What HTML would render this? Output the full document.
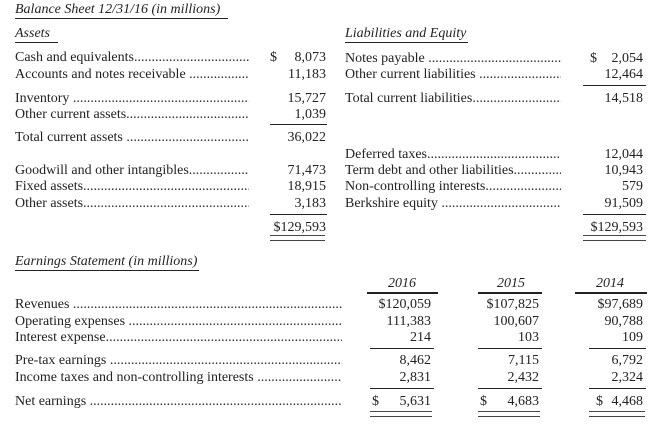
<!DOCTYPE html>
<html><head><style>
body{margin:0;width:658px;height:425px;background:#fff;position:relative;overflow:hidden;font-family:"Liberation Serif",serif;color:#222;font-size:14px}
.t{position:absolute;line-height:16px;white-space:nowrap}
.l{position:absolute;line-height:16px;white-space:nowrap;overflow:hidden}
.v{position:absolute;line-height:16px;text-align:right;white-space:nowrap}
.i{font-style:italic}
.h{position:absolute;height:1px;background:#222}
.hb{position:absolute;height:2px;background:#222}
.d{position:absolute;height:4px;border-top:1px solid #444;border-bottom:1px solid #444}
</style></head><body>
<div class="t i" style="left:15px;top:2px">Balance Sheet 12/31/16 (in millions)</div>
<div class="h" style="left:15px;top:18px;width:213px"></div>
<div class="t i" style="left:15px;top:26px">Assets</div>
<div class="h" style="left:15px;top:42px;width:43px"></div>
<div class="t i" style="left:345px;top:26px">Liabilities and Equity</div>
<div class="h" style="left:345px;top:42px;width:123px"></div>

<div class="l" style="left:15px;top:50px;width:234px">Cash and equivalents..............................................................</div>
<div class="l" style="left:15px;top:67px;width:234px">Accounts and notes receivable ..............................................</div>
<div class="l" style="left:15px;top:91px;width:234px">Inventory ..............................................................................</div>
<div class="l" style="left:15px;top:107px;width:234px">Other current assets..............................................................</div>
<div class="l" style="left:15px;top:130px;width:234px">Total current assets ..............................................................</div>
<div class="l" style="left:15px;top:163px;width:234px">Goodwill and other intangibles...............................................</div>
<div class="l" style="left:15px;top:179px;width:234px">Fixed assets............................................................................</div>
<div class="l" style="left:15px;top:196px;width:234px">Other assets...........................................................................</div>
<div class="t" style="left:270px;top:50px">$</div>
<div class="v" style="left:250px;width:76px;top:50px">8,073</div>
<div class="v" style="left:250px;width:76px;top:67px">11,183</div>
<div class="v" style="left:250px;width:76px;top:91px">15,727</div>
<div class="v" style="left:250px;width:76px;top:107px">1,039</div>
<div class="h" style="left:270px;top:124px;width:57px"></div>
<div class="v" style="left:250px;width:76px;top:130px">36,022</div>
<div class="v" style="left:250px;width:76px;top:163px">71,473</div>
<div class="v" style="left:250px;width:76px;top:179px">18,915</div>
<div class="v" style="left:250px;width:76px;top:196px">3,183</div>
<div class="h" style="left:270px;top:214px;width:57px"></div>
<div class="v" style="left:250px;width:76px;top:220px">$129,593</div>
<div class="d" style="left:270px;top:235px;width:55px"></div>

<div class="l" style="left:345px;top:51px;width:216px">Notes payable ..................................................................</div>
<div class="l" style="left:345px;top:67px;width:216px">Other current liabilities ......................................................</div>
<div class="l" style="left:345px;top:91px;width:216px">Total current liabilities........................................................</div>
<div class="l" style="left:345px;top:147px;width:216px">Deferred taxes...................................................................</div>
<div class="l" style="left:345px;top:163px;width:216px">Term debt and other liabilities..............................................</div>
<div class="l" style="left:345px;top:179px;width:216px">Non-controlling interests.....................................................</div>
<div class="l" style="left:345px;top:196px;width:216px">Berkshire equity ................................................................</div>
<div class="t" style="left:590px;top:51px">$</div>
<div class="v" style="left:566px;width:77px;top:51px">2,054</div>
<div class="v" style="left:566px;width:77px;top:67px">12,464</div>
<div class="h" style="left:583px;top:85px;width:63px"></div>
<div class="v" style="left:566px;width:77px;top:91px">14,518</div>
<div class="v" style="left:566px;width:77px;top:147px">12,044</div>
<div class="v" style="left:566px;width:77px;top:163px">10,943</div>
<div class="v" style="left:566px;width:77px;top:179px">579</div>
<div class="v" style="left:566px;width:77px;top:196px">91,509</div>
<div class="h" style="left:583px;top:214px;width:63px"></div>
<div class="v" style="left:566px;width:77px;top:220px">$129,593</div>
<div class="d" style="left:583px;top:235px;width:63px"></div>

<div class="t i" style="left:15px;top:254px">Earnings Statement (in millions)</div>
<div class="h" style="left:15px;top:270px;width:184px"></div>
<div class="t i" style="left:388px;top:276px">2016</div>
<div class="t i" style="left:497px;top:276px">2015</div>
<div class="t i" style="left:596px;top:276px">2014</div>
<div class="hb" style="left:367px;top:292px;width:71px"></div>
<div class="hb" style="left:478px;top:292px;width:64px"></div>
<div class="hb" style="left:575px;top:292px;width:72px"></div>

<div class="l" style="left:15px;top:297px;width:327px">Revenues ............................................................................................................</div>
<div class="l" style="left:15px;top:314px;width:327px">Operating expenses ...........................................................................................</div>
<div class="l" style="left:15px;top:330px;width:327px">Interest expense.................................................................................................</div>
<div class="l" style="left:15px;top:353px;width:327px">Pre-tax earnings .................................................................................................</div>
<div class="l" style="left:15px;top:370px;width:327px">Income taxes and non-controlling interests ........................................................</div>
<div class="l" style="left:15px;top:394px;width:327px">Net earnings ......................................................................................................</div>

<div class="v" style="left:350px;width:81px;top:297px">$120,059</div>
<div class="v" style="left:350px;width:81px;top:314px">111,383</div>
<div class="v" style="left:350px;width:81px;top:330px">214</div>
<div class="h" style="left:370px;top:348px;width:64px"></div>
<div class="v" style="left:350px;width:81px;top:353px">8,462</div>
<div class="v" style="left:350px;width:81px;top:370px">2,831</div>
<div class="h" style="left:370px;top:388px;width:64px"></div>
<div class="t" style="left:372px;top:394px">$</div>
<div class="v" style="left:350px;width:81px;top:394px">5,631</div>
<div class="d" style="left:370px;top:411px;width:62px"></div>

<div class="v" style="left:460px;width:79px;top:297px">$107,825</div>
<div class="v" style="left:460px;width:79px;top:314px">100,607</div>
<div class="v" style="left:460px;width:79px;top:330px">103</div>
<div class="h" style="left:478px;top:348px;width:64px"></div>
<div class="v" style="left:460px;width:79px;top:353px">7,115</div>
<div class="v" style="left:460px;width:79px;top:370px">2,432</div>
<div class="h" style="left:478px;top:388px;width:64px"></div>
<div class="t" style="left:480px;top:394px">$</div>
<div class="v" style="left:460px;width:79px;top:394px">4,683</div>
<div class="d" style="left:478px;top:411px;width:62px"></div>

<div class="v" style="left:566px;width:77px;top:297px">$97,689</div>
<div class="v" style="left:566px;width:77px;top:314px">90,788</div>
<div class="v" style="left:566px;width:77px;top:330px">109</div>
<div class="h" style="left:589px;top:348px;width:57px"></div>
<div class="v" style="left:566px;width:77px;top:353px">6,792</div>
<div class="v" style="left:566px;width:77px;top:370px">2,324</div>
<div class="h" style="left:589px;top:388px;width:57px"></div>
<div class="t" style="left:596px;top:394px">$</div>
<div class="v" style="left:566px;width:77px;top:394px">4,468</div>
<div class="d" style="left:589px;top:411px;width:56px"></div>
</body></html>
